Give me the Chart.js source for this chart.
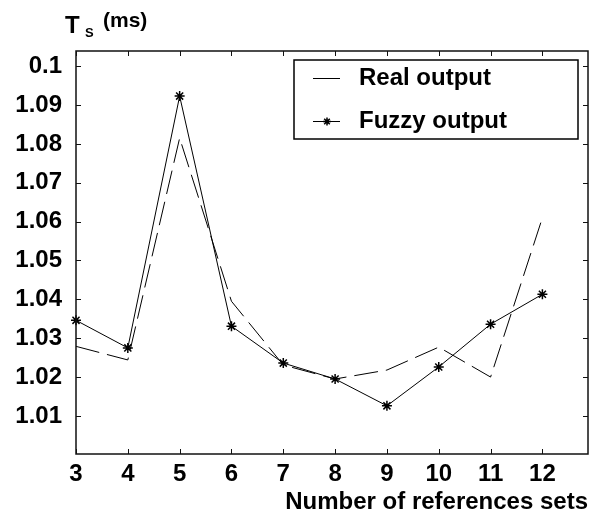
<!DOCTYPE html>
<html>
<head>
<meta charset="utf-8">
<script src="https://cdn.jsdelivr.net/npm/chart.js@4.4.1/dist/chart.umd.min.js"></script>
<style>
  html, body { margin: 0; padding: 0; background: #fff; }
  canvas { display: block; }
</style>
</head>
<body>
<canvas id="grafico" width="600" height="517"></canvas>
<script>
const refSets = [3, 4, 5, 6, 7, 8, 9, 10, 11, 12];
const realOutput = [1.0279, 1.0244, 1.0815, 1.0395, 1.0231, 1.0195, 1.0218, 1.0277, 1.0200, 1.0610];
const fuzzyOutput = [1.0346, 1.0275, 1.0923, 1.0331, 1.0236, 1.0195, 1.0126, 1.0226, 1.0336, 1.0413];

const xTickValues = [3, 4, 5, 6, 7, 8, 9, 10, 11, 12];
const xTickLabels = ['3', '4', '5', '6', '7', '8', '9', '10', '11', '12'];
const yTickValues = [1.01, 1.02, 1.03, 1.04, 1.05, 1.06, 1.07, 1.08, 1.09, 1.10];
const yTickLabels = ['1.01', '1.02', '1.03', '1.04', '1.05', '1.06', '1.07', '1.08', '1.09', '0.1'];

const fonte = '"Liberation Sans", Arial, sans-serif';

function asterisco(ctx, x, y, r) {
    ctx.beginPath();
    ctx.moveTo(x - r, y); ctx.lineTo(x + r, y);
    ctx.moveTo(x, y - r); ctx.lineTo(x, y + r);
    const d = r * 0.7;
    ctx.moveTo(x - d, y - d); ctx.lineTo(x + d, y + d);
    ctx.moveTo(x - d, y + d); ctx.lineTo(x + d, y - d);
    ctx.stroke();
}

// moldura, marcas internas, rotulo Ts e legenda
const moldura = {
    id: 'moldura',
    afterDraw(chart) {
        const { ctx, chartArea: a, scales: { x, y } } = chart;
        ctx.save();
        ctx.strokeStyle = '#111';
        ctx.lineWidth = 1.5;
        ctx.strokeRect(a.left, a.top, a.right - a.left, a.bottom - a.top);

        ctx.lineWidth = 1;
        ctx.beginPath();
        xTickValues.forEach(v => {
            const px = Math.round(x.getPixelForValue(v)) + 0.5;
            ctx.moveTo(px, a.bottom); ctx.lineTo(px, a.bottom - 5);
            ctx.moveTo(px, a.top); ctx.lineTo(px, a.top + 5);
        });
        yTickValues.forEach(v => {
            const py = Math.round(y.getPixelForValue(v)) + 0.5;
            ctx.moveTo(a.left, py); ctx.lineTo(a.left + 5, py);
            ctx.moveTo(a.right, py); ctx.lineTo(a.right - 5, py);
        });
        ctx.stroke();

        // Ts (ms)
        ctx.fillStyle = '#000';
        ctx.textBaseline = 'alphabetic';
        ctx.textAlign = 'left';
        ctx.font = 'bold 24px ' + fonte;
        ctx.fillText('T', 65, 33);
        ctx.font = 'bold 13px ' + fonte;
        ctx.fillText('S', 85, 37);
        ctx.font = 'bold 21px ' + fonte;
        ctx.fillText('(ms)', 103, 27);

        // legenda
        ctx.strokeStyle = '#000';
        ctx.lineWidth = 1.5;
        ctx.strokeRect(294, 60, 284, 79);
        ctx.lineWidth = 1;
        ctx.beginPath();
        ctx.moveTo(313, 78.5); ctx.lineTo(340, 78.5);
        ctx.moveTo(313, 121.5); ctx.lineTo(340, 121.5);
        ctx.stroke();
        ctx.lineWidth = 1.5;
        asterisco(ctx, 327, 121.5, 4);
        ctx.font = 'bold 24px ' + fonte;
        ctx.fillText(chart.data.datasets[0].label, 359, 85);
        ctx.fillText(chart.data.datasets[1].label, 359, 128);
        ctx.restore();
    }
};

const ctx = document.getElementById('grafico').getContext('2d');

const grafico = new Chart(ctx, {
    type: 'line',
    data: {
        datasets: [{
            label: 'Real output',
            data: refSets.map((v, i) => ({ x: v, y: realOutput[i] })),
            borderColor: '#000',
            borderWidth: 1,
            borderDash: [24, 8],
            pointRadius: 0,
            tension: 0
        }, {
            label: 'Fuzzy output',
            data: refSets.map((v, i) => ({ x: v, y: fuzzyOutput[i] })),
            borderColor: '#000',
            borderWidth: 1,
            pointStyle: 'star',
            pointRadius: 5,
            pointBorderWidth: 1.5,
            pointBorderColor: '#000',
            pointBackgroundColor: '#000',
            tension: 0,
            clip: false
        }]
    },
    options: {
        responsive: false,
        animation: false,
        layout: { padding: { top: 51, right: 12, left: 0, bottom: 0 } },
        plugins: {
            legend: { display: false },
            title: { display: false },
            tooltip: { enabled: false }
        },
        scales: {
            x: {
                type: 'linear',
                min: 3,
                max: 12.88,
                grid: { display: false, drawTicks: false },
                border: { display: false },
                afterFit(scale) { scale.height = 63; },
                afterBuildTicks(scale) { scale.ticks = xTickValues.map(v => ({ value: v })); },
                ticks: {
                    padding: 6,
                    color: '#000',
                    maxRotation: 0,
                    font: { family: fonte, size: 24, weight: 'bold' },
                    callback: (v, i) => xTickLabels[i]
                },
                title: {
                    display: true,
                    text: 'Number of references sets',
                    align: 'end',
                    color: '#000',
                    padding: { top: 0, bottom: 0 },
                    font: { family: fonte, size: 24, weight: 'bold', lineHeight: 1.2 }
                }
            },
            y: {
                min: 1.0002,
                max: 1.1039,
                grid: { display: false, drawTicks: false },
                border: { display: false },
                afterFit(scale) { scale.width = 76; },
                afterBuildTicks(scale) { scale.ticks = yTickValues.map(v => ({ value: v })); },
                ticks: {
                    padding: 14,
                    color: '#000',
                    font: { family: fonte, size: 24, weight: 'bold' },
                    callback: (v, i) => yTickLabels[i]
                }
            }
        }
    },
    plugins: [moldura]
});
</script>
</body>
</html>
